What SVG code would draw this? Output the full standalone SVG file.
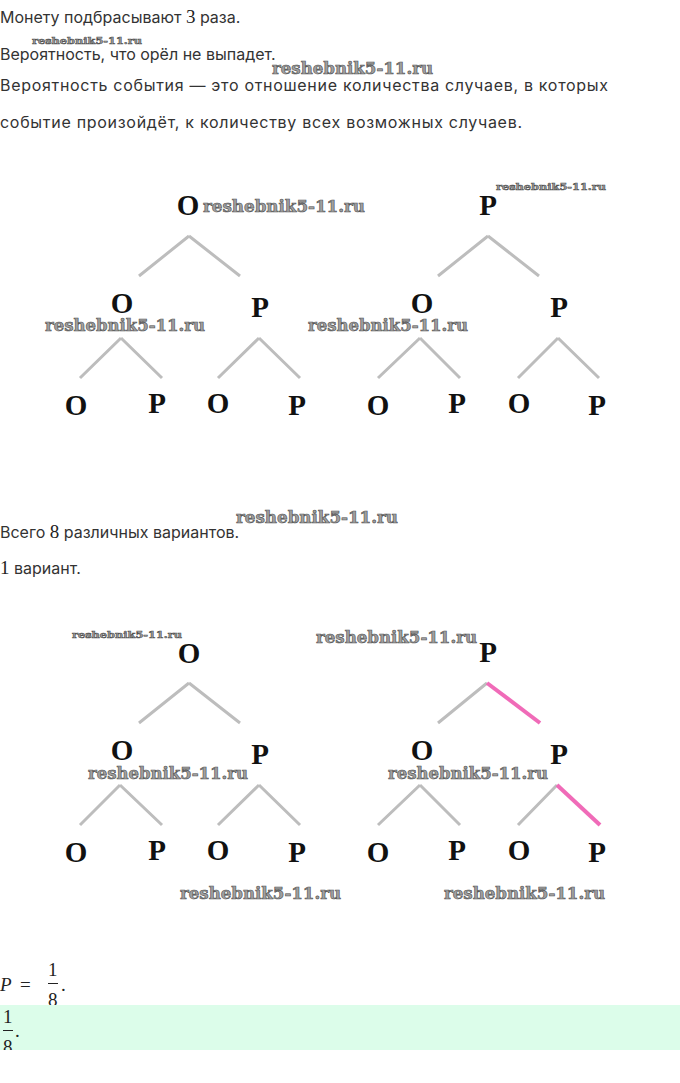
<svg xmlns="http://www.w3.org/2000/svg" width="680" height="1083" viewBox="0 0 680 1083">
<style>
.t{font-family:Inter,"Noto Sans","DejaVu Sans",sans-serif;font-size:16px;fill:#333}
.m{font-family:"Liberation Serif","DejaVu Serif",serif;font-size:19px;fill:#222}
.n{font-family:"Liberation Serif","DejaVu Serif",serif;font-size:29px;font-weight:bold;fill:#111;text-anchor:middle}
.w{font-family:"DejaVu Serif","Liberation Serif",serif;font-weight:bold;fill:#a0a0a0;stroke:#505050;stroke-width:0.6;lengthAdjust:spacingAndGlyphs}
.e{stroke:#bdbdbd;stroke-width:3;fill:none}
.h{stroke:#f06bb8;stroke-width:4;fill:none}
</style>
<defs>
<clipPath id="c1"><rect x="0" y="0" width="680" height="1050"/></clipPath>
</defs>
<rect width="680" height="1083" fill="#fff"/>

<g id="intro">
<text class="t" x="0" y="23">Монету подбрасывают <tspan class="m">3</tspan> раза.</text>
<text class="w" x="32" y="44" font-size="10" textLength="110" lengthAdjust="spacingAndGlyphs">reshebnik5-11.ru</text>
<text class="t" x="0" y="60">Вероятность, что орёл не выпадет.</text>
<text class="w" x="272" y="74" font-size="16" textLength="161" lengthAdjust="spacingAndGlyphs">reshebnik5-11.ru</text>
<text class="t" x="0" y="91" textLength="608">Вероятность события — это отношение количества случаев, в которых</text>
<text class="t" x="0" y="128" textLength="522">событие произойдёт, к количеству всех возможных случаев.</text>
</g>

<g id="connectors">
<path class="e" d="M189 236 L139 276 M189 236 L240 276 M488 236 L438 276 M488 236 L539 276"/>
<path class="e" d="M121 338 L80 378 M121 338 L162 378 M259 338 L218 378 M259 338 L300 378 M420 338 L378 378 M420 338 L460 378 M558 338 L518 378 M558 338 L599 378"/>
<path class="e" d="M189 683 L139 723 M189 683 L240 723 M487 683 L438 723"/>
<path class="h" d="M487 683 L540 723"/>
<path class="e" d="M120 785 L80 825 M120 785 L162 825 M259 785 L218 825 M259 785 L300 825 M420 785 L378 825 M420 785 L460 825 M557 785 L518 825"/>
<path class="h" d="M557 785 L600 825"/>
</g>

<g id="tree1">
<g id="t1-root-O"><text class="n" x="188" y="215">О</text></g>
<g id="t1-root-P"><text class="n" x="488" y="215">Р</text></g>
<g id="t1-l2"><text class="n" x="122" y="313">О</text><text class="n" x="260" y="317">Р</text><text class="n" x="422" y="313">О</text><text class="n" x="559" y="317">Р</text></g>
<g id="t1-l3">
<text class="n" x="76" y="415">О</text><text class="n" x="157" y="413">Р</text>
<text class="n" x="218" y="413">О</text><text class="n" x="297" y="415">Р</text>
<text class="n" x="378" y="415">О</text><text class="n" x="457" y="413">Р</text>
<text class="n" x="519" y="413">О</text><text class="n" x="597" y="415">Р</text>
</g>
<text class="w" x="203" y="212" font-size="16" textLength="162" lengthAdjust="spacingAndGlyphs">reshebnik5-11.ru</text>
<text class="w" x="496" y="190" font-size="10" textLength="110" lengthAdjust="spacingAndGlyphs">reshebnik5-11.ru</text>
<text class="w" x="45" y="331" font-size="16" textLength="160" lengthAdjust="spacingAndGlyphs">reshebnik5-11.ru</text>
<text class="w" x="308" y="331" font-size="16" textLength="160" lengthAdjust="spacingAndGlyphs">reshebnik5-11.ru</text>
</g>

<g id="mid">
<text class="w" x="236" y="523" font-size="16" textLength="162" lengthAdjust="spacingAndGlyphs">reshebnik5-11.ru</text>
<text class="t" x="0" y="538">Всего <tspan class="m">8</tspan> различных вариантов.</text>
<text class="t" x="0" y="574"><tspan class="m">1</tspan> вариант.</text>
</g>

<g id="tree2">
<g id="t2-root-O"><text class="n" x="189" y="663">О</text></g>
<g id="t2-root-P"><text class="n" x="488" y="662">Р</text></g>
<g id="t2-l2"><text class="n" x="122" y="760">О</text><text class="n" x="260" y="764">Р</text><text class="n" x="422" y="760">О</text><text class="n" x="559" y="764">Р</text></g>
<g id="t2-l3">
<text class="n" x="76" y="862">О</text><text class="n" x="157" y="860">Р</text>
<text class="n" x="218" y="860">О</text><text class="n" x="297" y="862">Р</text>
<text class="n" x="378" y="862">О</text><text class="n" x="457" y="860">Р</text>
<text class="n" x="519" y="860">О</text><text class="n" x="597" y="862">Р</text>
</g>
<text class="w" x="72" y="638" font-size="10" textLength="110" lengthAdjust="spacingAndGlyphs">reshebnik5-11.ru</text>
<text class="w" x="316" y="643" font-size="16" textLength="161" lengthAdjust="spacingAndGlyphs">reshebnik5-11.ru</text>
<text class="w" x="88" y="779" font-size="16" textLength="160" lengthAdjust="spacingAndGlyphs">reshebnik5-11.ru</text>
<text class="w" x="388" y="779" font-size="16" textLength="160" lengthAdjust="spacingAndGlyphs">reshebnik5-11.ru</text>
<text class="w" x="180" y="899" font-size="16" textLength="161" lengthAdjust="spacingAndGlyphs">reshebnik5-11.ru</text>
<text class="w" x="444" y="899" font-size="16" textLength="161" lengthAdjust="spacingAndGlyphs">reshebnik5-11.ru</text>
</g>

<g id="answer">
<text class="m" x="0" y="991" font-style="italic">P</text>
<text class="m" x="20" y="991">=</text>
<text class="m" x="48" y="976" font-size="17">1</text>
<rect x="48" y="983" width="10" height="1" fill="#222"/>
<text class="m" x="48" y="1006" font-size="17">8</text>
<text class="m" x="61" y="991">.</text>
<rect x="0" y="1005" width="680" height="45" fill="#dcfdea"/>
<g clip-path="url(#c1)">
<text class="m" x="3" y="1023" font-size="17">1</text>
<rect x="3" y="1030" width="10" height="1" fill="#222"/>
<text class="m" x="3" y="1053" font-size="17">8</text>
<text class="m" x="15" y="1037">.</text>
</g>
</g>
</svg>
